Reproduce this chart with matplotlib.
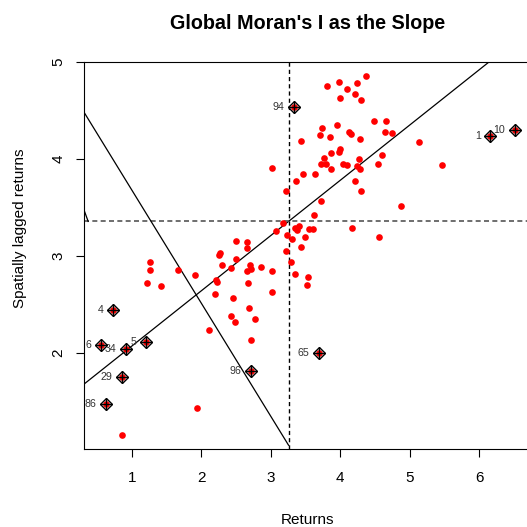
import matplotlib
matplotlib.use("Agg")
import matplotlib.pyplot as plt

plt.rcParams['font.family'] = ['Liberation Sans', 'DejaVu Sans']

# ---- data ----
returns = [3.81, 3.98, 4.24, 4.37, 4.10, 4.21, 4.00, 4.30, 4.49, 4.66,
           3.95, 3.74, 3.71, 3.85, 4.13, 4.15, 4.64, 4.75, 4.29, 3.44,
           5.14, 3.86, 3.99, 3.98, 3.76, 4.60, 4.27, 3.72, 3.80, 4.04,
           4.10, 3.86, 4.24, 4.29, 4.55, 5.46, 3.47, 3.63, 3.36, 4.21,
           4.30, 3.22, 3.72, 4.88, 3.62, 3.17, 3.35, 3.41, 3.38, 3.55,
           3.60, 4.17, 3.23, 3.31, 3.49, 4.56, 3.43, 3.22, 3.29, 3.35,
           3.53, 3.52, 3.02, 3.07,
           2.50, 2.66, 2.65, 2.27, 2.25, 1.26, 2.50, 2.30, 2.70, 2.43,
           2.86, 1.26, 1.67, 2.72, 2.65, 3.02, 1.91, 2.21, 2.23, 1.21,
           1.42, 2.67, 2.20, 3.02, 2.45, 2.68, 2.43, 2.49, 2.77, 2.11,
           2.72, 1.94, 0.86]
lagged = [4.75, 4.79, 4.78, 4.85, 4.72, 4.67, 4.63, 4.61, 4.39, 4.39,
          4.35, 4.32, 4.25, 4.22, 4.28, 4.26, 4.28, 4.27, 4.20, 4.18,
          4.17, 4.06, 4.10, 4.07, 4.01, 4.04, 4.00, 3.95, 3.95, 3.95,
          3.94, 3.90, 3.93, 3.89, 3.95, 3.94, 3.84, 3.84, 3.77, 3.77,
          3.67, 3.67, 3.57, 3.51, 3.42, 3.34, 3.29, 3.31, 3.27, 3.28,
          3.28, 3.29, 3.21, 3.17, 3.19, 3.19, 3.09, 3.05, 2.94, 2.81,
          2.78, 2.70, 3.91, 3.26,
          3.15, 3.14, 3.08, 3.03, 3.01, 2.94, 2.97, 2.91, 2.91, 2.88,
          2.89, 2.85, 2.85, 2.86, 2.84, 2.84, 2.80, 2.75, 2.73, 2.72,
          2.69, 2.72, 2.61, 2.63, 2.57, 2.46, 2.38, 2.32, 2.35, 2.24,
          2.13, 1.43, 1.16]

infl_labels = ["94", "1", "10", "4", "6", "34", "5", "29", "86", "96", "65"]
infl_x = [3.33, 6.16, 6.51, 0.73, 0.55, 0.91, 1.20, 0.86, 0.63, 2.72, 3.69]
infl_y = [4.53, 4.23, 4.30, 2.44, 2.08, 2.04, 2.11, 1.75, 1.47, 1.81, 2.00]

mean_x = 3.255
mean_y = 3.355
moran_slope = 0.569

seg_a_x = [0.31, 0.37]
seg_a_y = [3.473, 3.355]
seg_b_x = [0.31, 3.255]
seg_b_y = [4.48, 1.05]

x_ticks = [1, 2, 3, 4, 5, 6]
y_ticks = [2, 3, 4, 5]

# ---- figure ----
W = 527
fig = plt.figure(figsize=(5.27, 5.27), dpi=100)
ax = fig.add_axes([84 / W, (W - 449.1) / W, 447.3 / W, 387.4 / W])
ax.set_xlim(0.31, 6.75)
ax.set_ylim(1.01, 5.0)

ax.plot(returns + infl_x, lagged + infl_y, 'o', ms=4.8, mfc='red', mec='red',
        mew=0, zorder=3)
ax.plot(infl_x, infl_y, 'D', ms=6.1, mfc='none', mec='black', mew=1.0, zorder=4)
ax.plot(infl_x, infl_y, '+', ms=8.6, mec='black', mew=1.0, zorder=4)
for lab, xv, yv in zip(infl_labels, infl_x, infl_y):
    ax.annotate(lab, (xv, yv), xytext=(-7, 0), textcoords='offset points',
                ha='right', va='center', fontsize=7.7, color='#333333')

ax.axline((mean_x, mean_y), slope=moran_slope, color='black', lw=0.9, zorder=2)
ax.axvline(mean_x, color='black', lw=1.0, ls=(0, (3, 2.2)), zorder=2)
ax.axhline(mean_y, color='#555555', lw=1.2, ls=(0, (3, 2)), zorder=2)
ax.plot(seg_a_x, seg_a_y, color='black', lw=0.9, zorder=2)
ax.plot(seg_b_x, seg_b_y, color='black', lw=0.9, zorder=2)

ax.set_xticks(x_ticks)
ax.set_yticks(y_ticks)
ax.tick_params(direction='out', length=5.5, width=0.8, labelsize=11, color='black')
ax.tick_params(axis='x', pad=10)
ax.tick_params(axis='y', pad=8, labelrotation=90)
for t in ax.get_yticklabels():
    t.set_va('center')
for s in ax.spines.values():
    s.set_linewidth(0.8)
    s.set_color('black')

ax.set_title("Global Moran's I as the Slope", fontsize=14.2, fontweight='bold',
             pad=23.5)
fig.text(307.5 / W, (W - 524.5) / W, "Returns", ha='center', va='baseline',
         fontsize=11)
fig.text(20 / W, (W - 228) / W, "Spatially lagged returns", ha='center',
         va='center', rotation=90, fontsize=11)

fig.savefig("out.png", dpi=100)
